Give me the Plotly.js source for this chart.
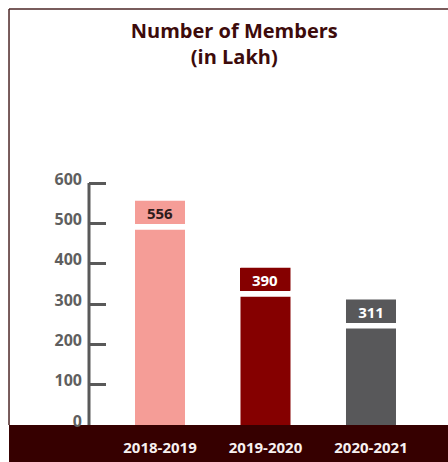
<!DOCTYPE html>
<html>
<head>
<meta charset="utf-8">
<script src="https://cdn.plot.ly/plotly-3.0.1.min.js"></script>
<style>html,body{margin:0;padding:0;background:#fff;}#chart{width:448px;height:462px;}</style>
</head>
<body>
<div id="chart"></div>
<script>
var categories = ['2018-2019', '2019-2020', '2020-2021'];
var members = [556, 390, 311];
var yTicks = [0, 100, 200, 300, 400, 500, 600];

var barColors = ['#f59d97', '#850000', '#58585a'];
var labelColors = ['#2e1c1c', '#ffffff', '#ffffff'];
var FONT = '"Open Sans", "DejaVu Sans", sans-serif';
var halfW = 0.237;

var trace = {
  type: 'bar',
  x: categories,
  y: members,
  marker: {color: barColors, line: {width: 0}},
  width: 2 * halfW,
  hoverinfo: 'skip'
};

var annotations = categories.map(function (c, i) {
  return {
    xref: 'x', yref: 'y', x: c, y: members[i],
    xanchor: 'center', yanchor: 'top',
    text: '<b>' + members[i] + '</b>',
    showarrow: false,
    width: 50, height: 23, borderpad: 0, borderwidth: 0,
    bgcolor: barColors[i],
    font: {family: FONT, size: 15, color: labelColors[i]}
  };
});

var shapes = [];
// white gap under each label box
categories.forEach(function (c, i) {
  shapes.push({
    type: 'rect', layer: 'above', xref: 'x', yref: 'y',
    x0: i - halfW - 0.01, x1: i + halfW + 0.01,
    ysizemode: 'pixel', yanchor: members[i], y0: -23, y1: -29,
    fillcolor: '#ffffff', line: {width: 0}
  });
});
// y-axis line
shapes.push({
  type: 'line', layer: 'above', xref: 'paper', yref: 'y',
  x0: 0, x1: 0, y0: 0, y1: 600,
  line: {color: '#595959', width: 3}
});
// bottom band
shapes.push({
  type: 'rect', layer: 'below', xref: 'paper', yref: 'paper',
  x0: -0.2228, x1: 1.01, y0: -0.13, y1: 0,
  fillcolor: '#360000', line: {width: 0}
});
// frame lines
shapes.push({
  type: 'line', layer: 'below', xref: 'paper', yref: 'paper',
  x0: -0.2228, x1: 1.01, y0: 1.28, y1: 1.28,
  line: {color: '#4d2626', width: 1.5}
});
shapes.push({
  type: 'line', layer: 'below', xref: 'paper', yref: 'paper',
  x0: -0.2228, x1: -0.2228, y0: 1.28, y1: 0,
  line: {color: '#4d2626', width: 1.5}
});

var layout = {
  width: 448, height: 462,
  margin: {l: 89, r: 0, t: 100, b: 37, pad: 0},
  paper_bgcolor: '#ffffff', plot_bgcolor: 'rgba(0,0,0,0)',
  showlegend: false,
  title: {
    text: '<b>Number of Members<br>(in Lakh)</b>',
    font: {family: FONT, size: 20, color: '#3d0b0b'},
    xref: 'container', x: 0.523, xanchor: 'center',
    yref: 'container', y: 0.917, yanchor: 'top'
  },
  xaxis: {
    type: 'category',
    range: [-0.673, 2.73],
    showgrid: false, zeroline: false, showline: false,
    ticks: '',
    ticklabelstandoff: 12,
    tickfont: {family: FONT, size: 15, color: '#f7f0f0', weight: 'bold'}
  },
  yaxis: {
    range: [0, 805.8],
    tickvals: yTicks,
    ticktext: yTicks.map(String),
    ticks: 'inside', ticklen: 17, tickwidth: 3, tickcolor: '#595959',
    showgrid: false, zeroline: false, showline: false,
    ticklabelstandoff: 6,
    ticklabelshift: -4,
    tickfont: {family: FONT, size: 16, color: '#5f5f5f', weight: 'bold'}
  },
  annotations: annotations,
  shapes: shapes
};

Plotly.newPlot('chart', [trace], layout, {displayModeBar: false, staticPlot: true});
</script>
</body>
</html>
